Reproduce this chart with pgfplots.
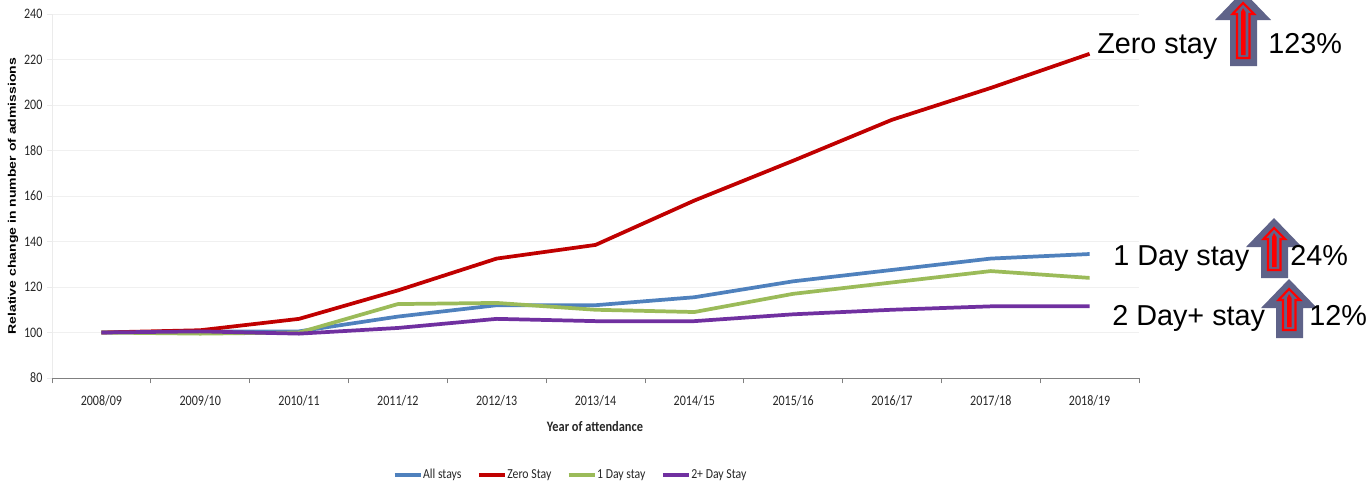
\documentclass[border=0pt]{standalone}
\usepackage{pgfplots}
\pgfplotsset{compat=1.18}
\usepackage{fontspec}
\setmainfont{Liberation Sans}
\newfontfamily\tk[FakeStretch=0.83]{Carlito}
\newfontfamily\tkl[FakeStretch=0.86]{Carlito}
\newfontfamily\tkb[FakeStretch=0.86]{Carlito Bold}
\newfontfamily\yl[FakeStretch=1.275]{Liberation Sans Bold}
\newcommand{\px}[1]{\fontsize{\fpeval{#1*0.75}}{\fpeval{#1*0.9}}\selectfont}
\definecolor{arrowfill}{HTML}{5F6389}
\definecolor{cBlue}{HTML}{4F81BD}
\definecolor{cRed}{HTML}{C00000}
\definecolor{cGreen}{HTML}{9BBB59}
\definecolor{cPurple}{HTML}{7030A0}
\newcommand{\bigarrow}[5]{% tip x, tip y, head base y, bottom y, red top y
  \fill[arrowfill] (#1,#2) -- (#1+28,#3) -- (#1+14,#3) -- (#1+14,#4) -- (#1-13,#4) -- (#1-13,#3) -- (#1-28,#3) -- cycle;
  \draw[red,line width=1.6pt,fill=arrowfill,miter limit=4] (#1,#5) -- (#1+11,#5+11) -- (#1+6.5,#5+11) -- (#1+6.5,#4-8) -- (#1-6,#4-8) -- (#1-6,#5+11) -- (#1-10.5,#5+11) -- cycle;
  \fill[red] (#1,#5+5) -- (#1+2.5,#5+9) -- (#1+2.5,#4-11) -- (#1-2,#4-11) -- (#1-2,#5+9) -- cycle;
}
\pgfplotstableread{
x all zero one two
0 100 100 100 100
1 100.5 101 99.5 100.5
2 100.5 106 100 99.5
3 107 118.5 112.5 102
4 112 132.5 113 106
5 112 138.5 110 105
6 115.5 158 109 105
7 122.5 175.5 117 108
8 127.5 193.5 122 110
9 132.5 207.5 127 111.5
10 134.5 222.5 124 111.5
}\datatable
\begin{document}
\begin{tikzpicture}[x=0.75pt,y=-0.75pt]
\path[use as bounding box] (0,0) rectangle (1369,482);
\clip (0,0) rectangle (1369,482);
\coordinate (O) at (52,378);
\begin{axis}[
  at={(O)},anchor=south west,
  scale only axis,width=815.25pt,height=273pt,
  xmin=-0.5,xmax=10.5,ymin=80,ymax=240,
  axis x line*=bottom,axis y line*=left,
  tick align=outside,
  xtick={0,...,10},
  xticklabels={2008/09,2009/10,2010/11,2011/12,2012/13,2013/14,2014/15,2015/16,2016/17,2017/18,2018/19},
  minor xtick={-0.5,0.5,1.5,2.5,3.5,4.5,5.5,6.5,7.5,8.5,9.5,10.5},
  major tick length=3.5pt,
  minor tick length=4pt,
  ytick={80,100,...,240},
  ymajorgrids,
  grid style={draw=black!6,line width=0.6pt},
  x axis line style={draw=black!50,line width=0.75pt,-},
  y axis line style={draw=black!8,line width=0.6pt,-},
  major x tick style={draw=none},
  minor x tick style={draw=black!50,line width=0.6pt},
  y tick style={draw=black!8,line width=0.6pt},
  xticklabel style={font=\tk\px{14.5},text=black!85,yshift=-9pt,inner sep=0pt},
  yticklabel style={font=\tk\px{14.5},text=black!85,xshift=-3.5pt,inner sep=0pt},
  /pgf/number format/assume math mode=true,
  legend style={at={(0.4775,-0.266)},anchor=center,draw=none,fill=none,font=\tkl\px{13.7},text=black!85,
     legend columns=4,inner sep=0pt,
     /tikz/every odd column/.append style={column sep=-1.5pt},
     /tikz/every even column/.append style={column sep=9.75pt}},
  legend cell align=left,
  legend image code/.code={\draw[#1,line width=2.6pt] (0pt,0pt) -- (19.5pt,0pt);},
  clip=false,
  every axis plot/.append style={line width=2.8pt,line join=round,no markers},
]
\addplot[cBlue] table[x=x,y=all]{\datatable};
\addplot[cRed] table[x=x,y=zero]{\datatable};
\addplot[cGreen] table[x=x,y=one]{\datatable};
\addplot[cPurple] table[x=x,y=two]{\datatable};
\legend{All stays,Zero Stay,1 Day stay,2+ Day Stay}
\end{axis}
\node[rotate=90,font=\yl\px{11},inner sep=0pt,anchor=center] at (13,196) {Relative change in number of admissions};
\node[font=\tkb\px{14.4},text=black!85,inner sep=0pt,anchor=base] at (595,431) {Year of attendance};
\bigarrow{1243}{-9}{20}{66}{3}
\bigarrow{1274}{218}{247}{278}{228}
\bigarrow{1289}{279}{308}{338}{289}
\node[font=\px{28.8},inner sep=0pt,anchor=base west] at (1097,53) {Zero stay};
\node[font=\px{28.8},inner sep=0pt,anchor=base west] at (1268,53) {123\%};
\node[font=\px{28.8},inner sep=0pt,anchor=base west] at (1113,265) {1 Day stay};
\node[font=\px{28.8},inner sep=0pt,anchor=base west] at (1290,265) {24\%};
\node[font=\px{28.8},inner sep=0pt,anchor=base west] at (1112,325) {2 Day+ stay};
\node[font=\px{28.8},inner sep=0pt,anchor=base west] at (1309,325) {12\%};
\end{tikzpicture}
\end{document}
